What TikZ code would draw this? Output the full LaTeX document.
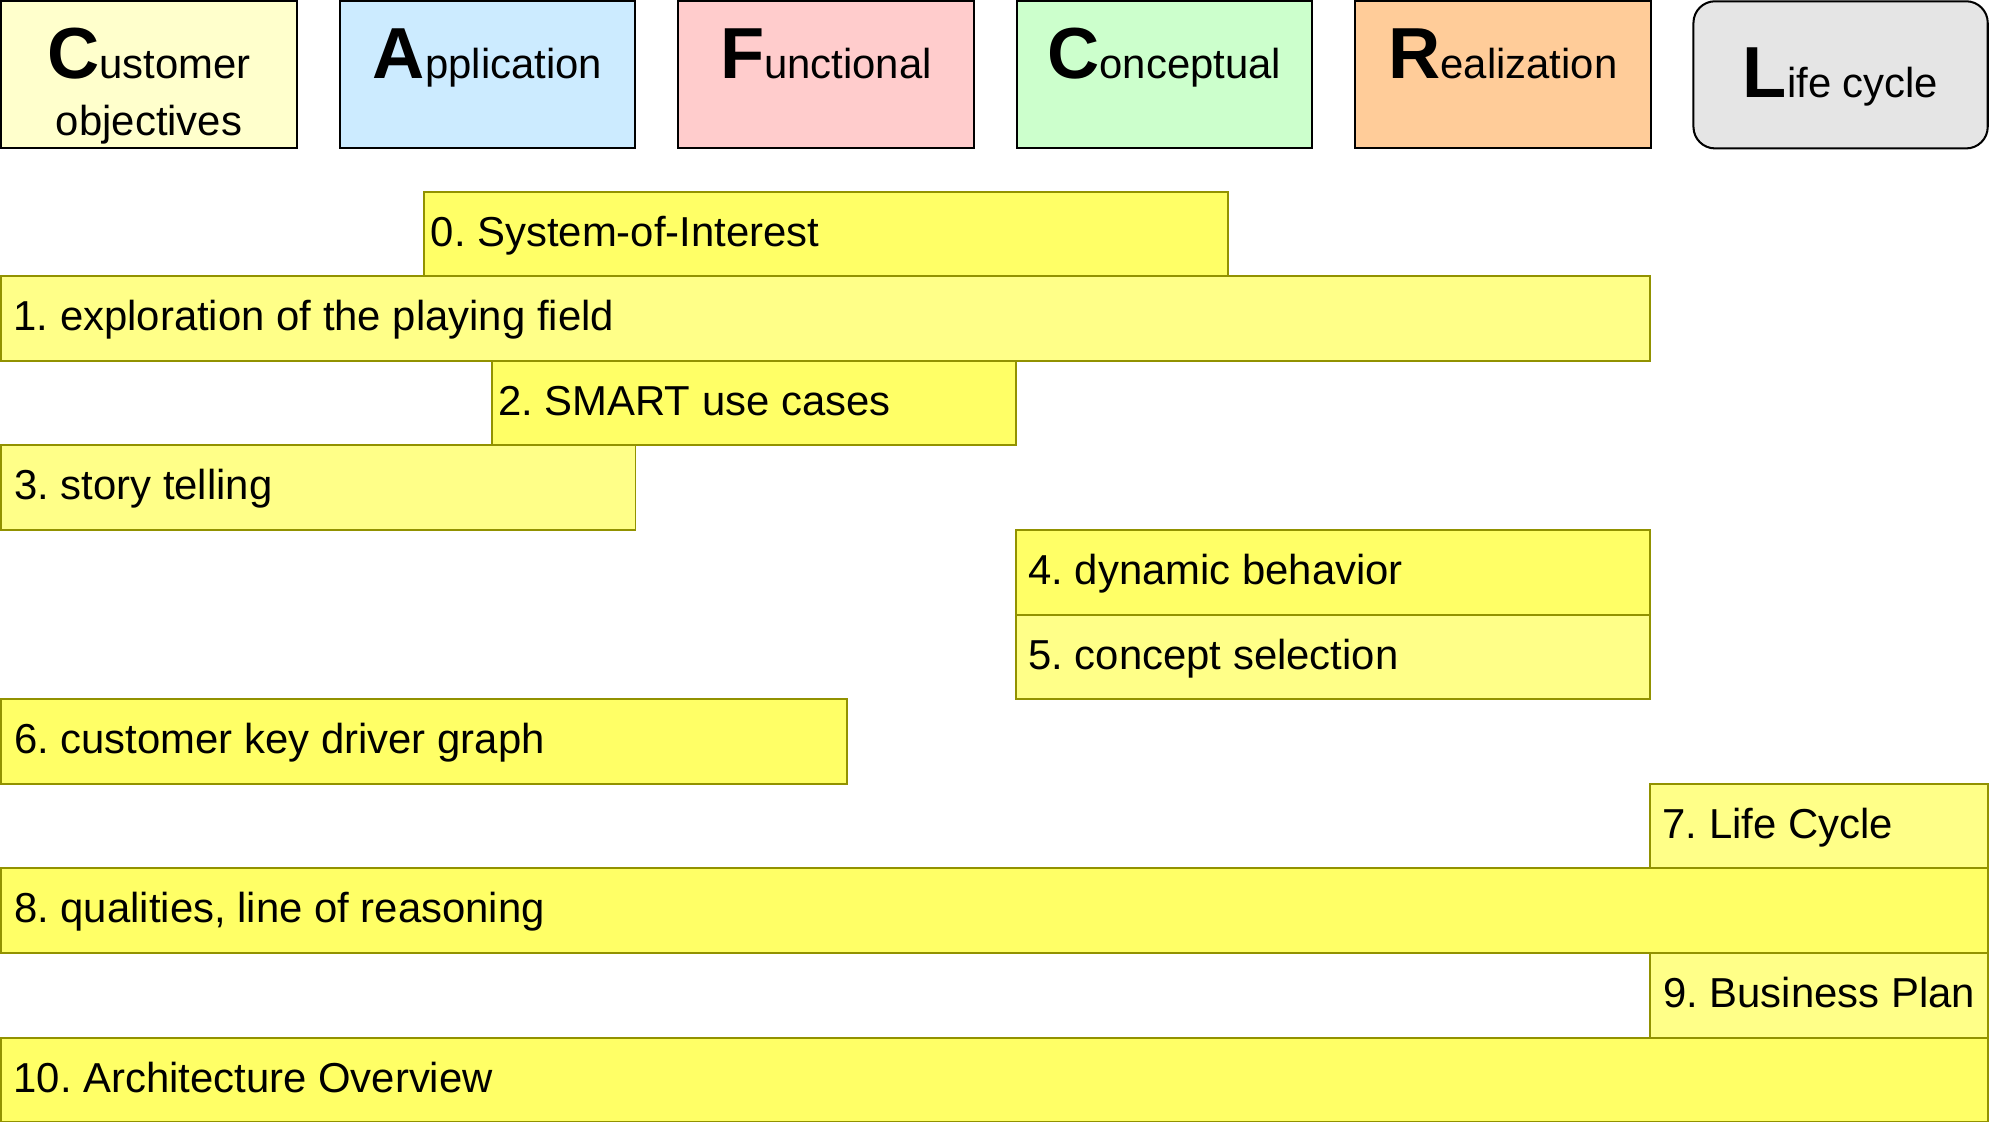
\documentclass[tikz,border=0pt]{standalone}
\usepackage{fontspec}
\setmainfont{Liberation Sans}
\frenchspacing

\definecolor{custcol}{HTML}{FFFFCC}
\definecolor{appcol}{HTML}{CCEBFF}
\definecolor{funccol}{HTML}{FFCCCC}
\definecolor{conccol}{HTML}{CCFFCC}
\definecolor{realcol}{HTML}{FFCC99}
\definecolor{lifecol}{HTML}{E5E5E5}
\definecolor{stepdark}{HTML}{FFFF66}
\definecolor{steplight}{HTML}{FFFF88}
\definecolor{stepline}{HTML}{929200}

\newcommand{\hdrletter}[1]{{\fontsize{57}{57}\selectfont\bfseries #1}}

\begin{document}
\begin{tikzpicture}[x=1pt,y=-1pt,
	hdr/.style={draw=black,line width=1.6pt},
	stepbox/.style={draw=stepline,line width=1.5pt},
	hdrtext/.style={anchor=base,inner sep=0pt,font=\fontsize{33}{40}\selectfont},
	steptext/.style={anchor=base west,inner sep=0pt,font=\fontsize{33}{40}\selectfont}]
	\useasboundingbox (0,0) rectangle (1568,884);
	
	% The view headers
	\foreach \i/\col/\nm/\txt in {0/custcol/cust/{\hdrletter{C}ustomer},
		1/appcol/app/{\hdrletter{A}pplication},
		2/funccol/func/{\hdrletter{F}unctional},
		3/conccol/conc/{\hdrletter{C}onceptual},
		4/realcol/real/{\hdrletter{R}ealization}}
	{
		\pgfmathsetmacro\xl{1+266.8*\i}
		\filldraw[hdr,fill=\col] (\xl,1) rectangle ++(233,116);
		\node[hdrtext] (\nm) at (\xl+116.5,62) {\txt};
	}
	\node[hdrtext] (custobj) at (117.5,107) {objectives};
	\filldraw[hdr,fill=lifecol,rounded corners=17pt] (1335,1) rectangle (1567,117);
	\node[hdrtext] (life) at (1451,77) {\hdrletter{L}ife cycle};
	
	% The steps
	\foreach \k/\xa/\xb/\tx/\col/\txt in {
		0/334/968/339.5/stepdark/{0. System-of-Interest},
		1/1/1301/10.5/steplight/{1. exploration of the playing field},
		2/388/801/392.5/stepdark/{2. SMART use cases},
		3/1/501/11/steplight/{3. story telling},
		4/801/1301/810.5/stepdark/{4. dynamic behavior},
		5/801/1301/810.5/steplight/{5. concept selection},
		6/1/668/11/stepdark/{6. customer key driver graph},
		7/1301/1567/1310.5/steplight/{7. Life Cycle},
		8/1/1567/11/stepdark/{8. qualities, line of reasoning},
		9/1301/1567/1311/steplight/{9. Business Plan},
		10/1/1567/10.5/stepdark/{10. Architecture Overview}}
	{
		\filldraw[stepbox,fill=\col] (\xa,151+66.7*\k) rectangle (\xb,217.7+66.7*\k);
		\node[steptext] (step\k) at (\tx,194+66.7*\k) {\txt};
	}
\end{tikzpicture}
\end{document}
